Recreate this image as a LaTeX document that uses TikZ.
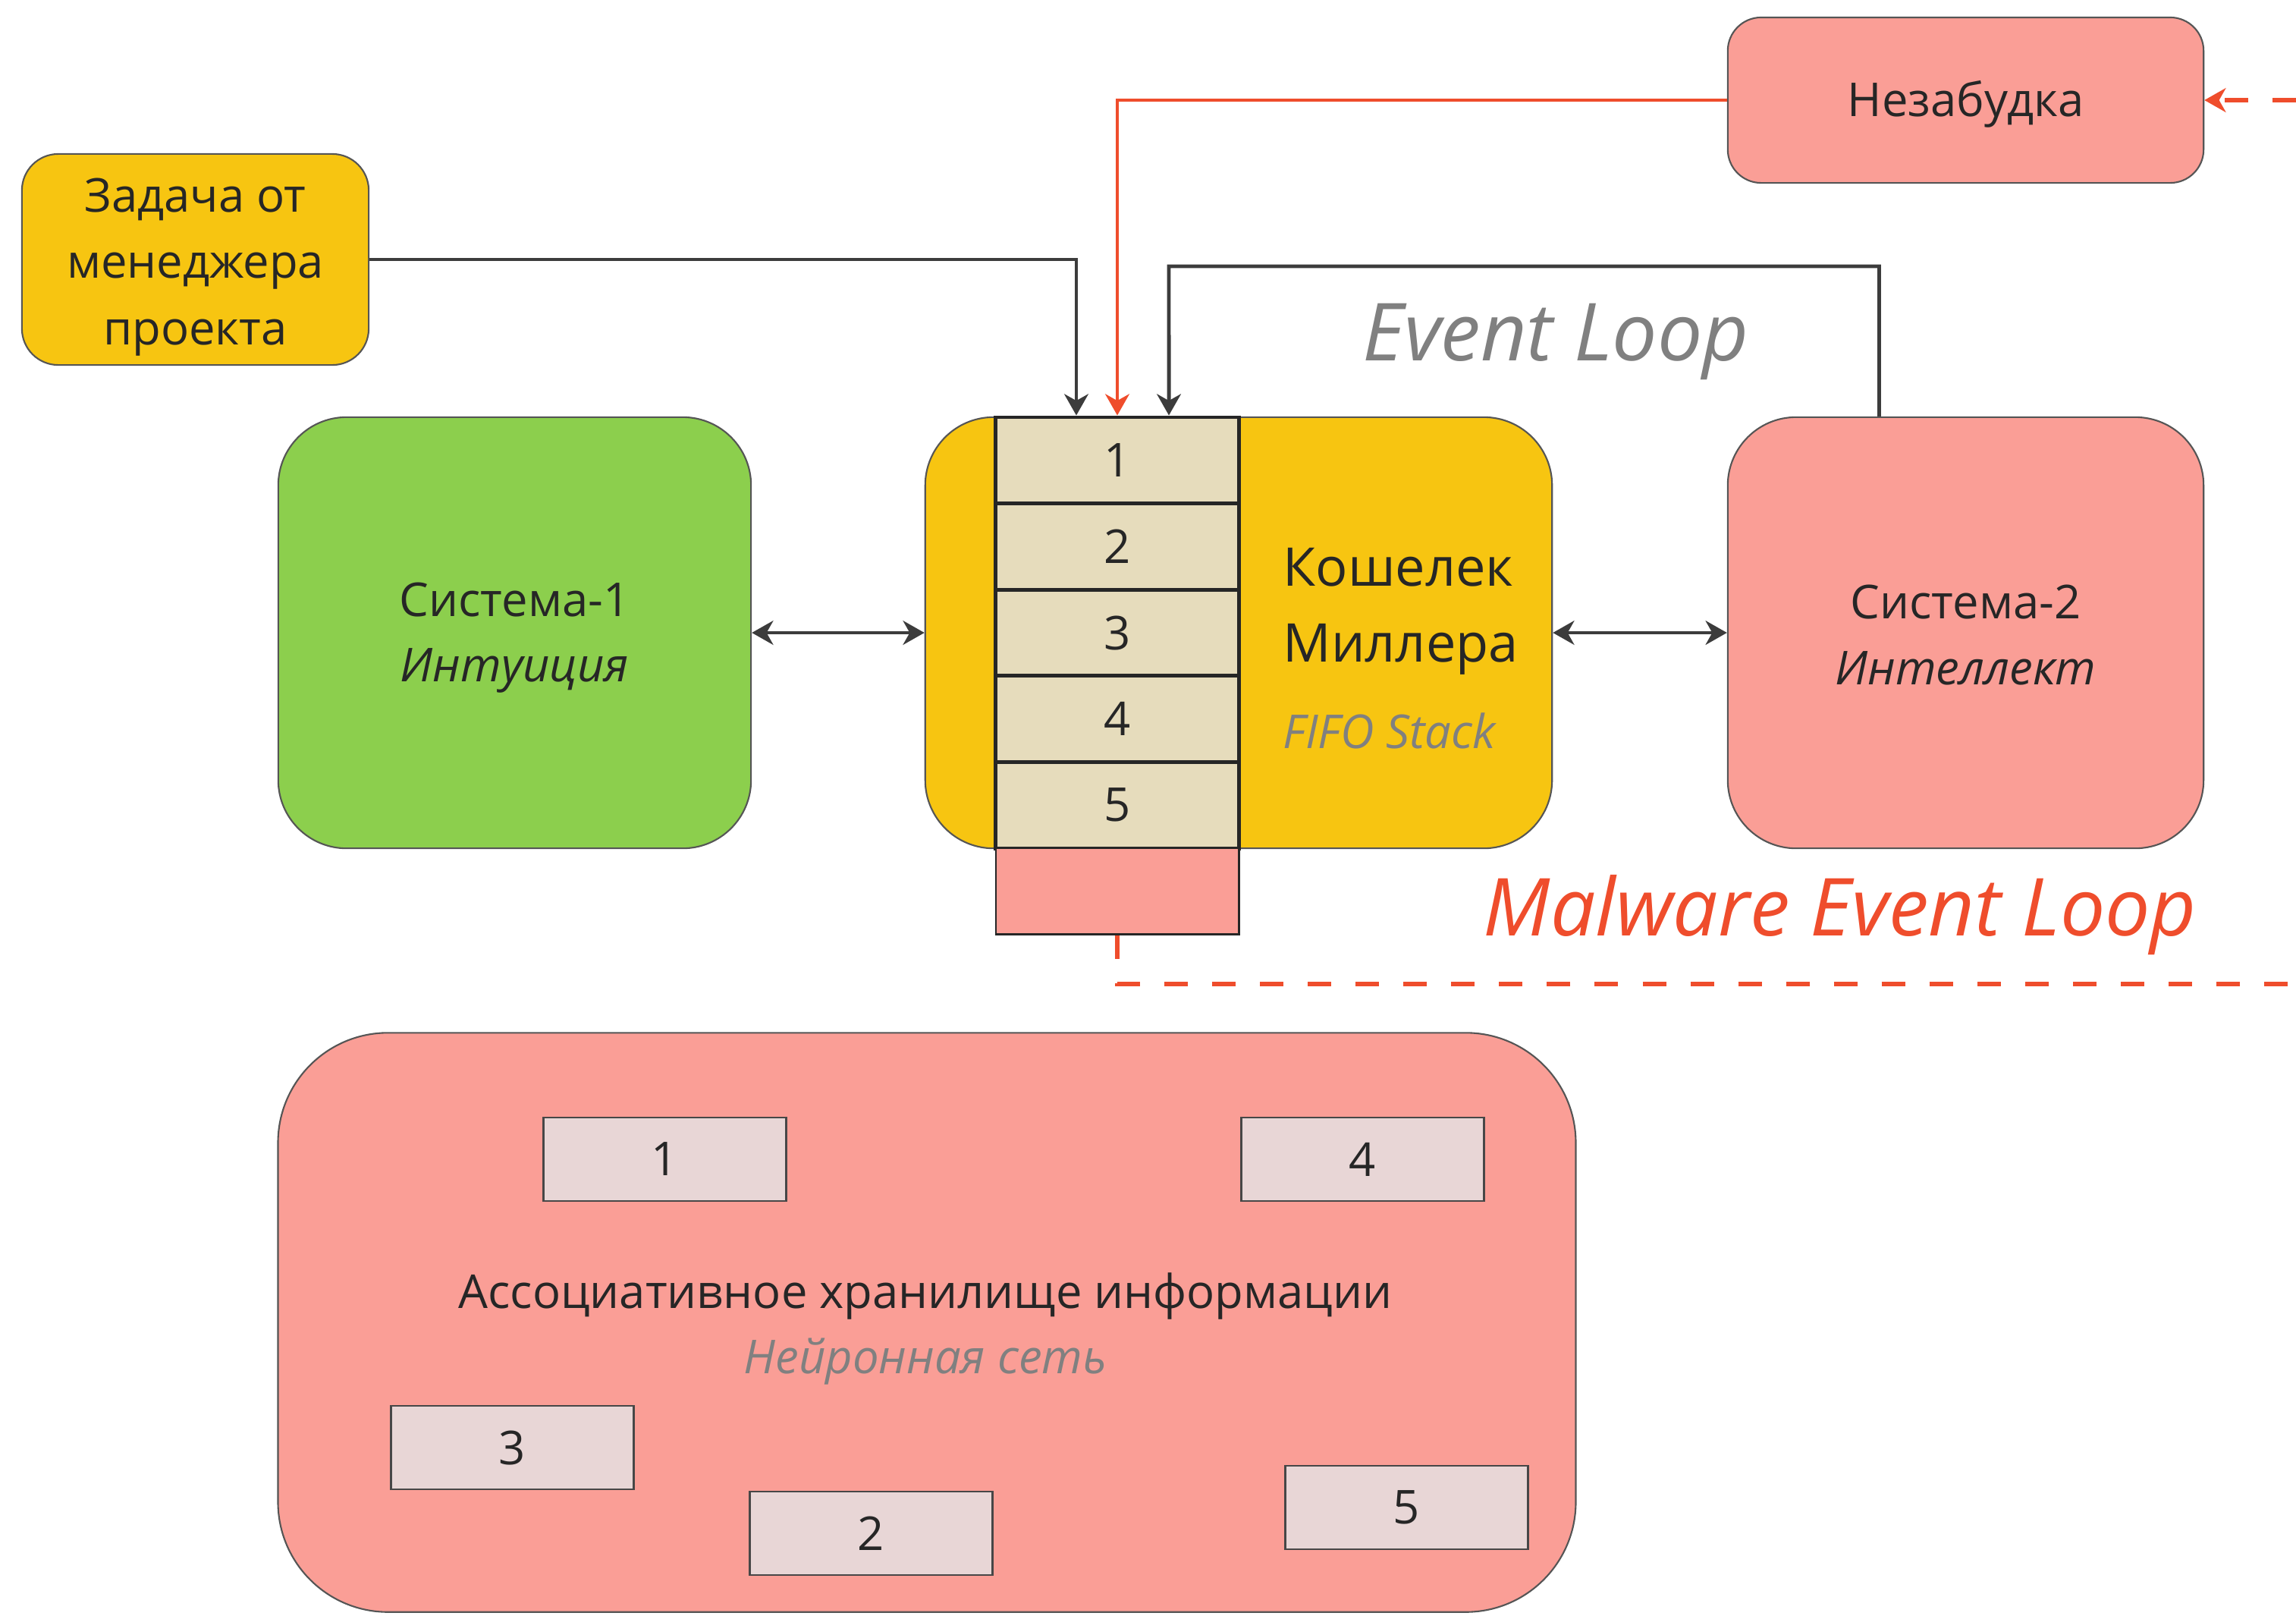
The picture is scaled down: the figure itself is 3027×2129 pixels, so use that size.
\documentclass[tikz,border=0pt]{standalone}
\usepackage{fontspec}
\setmainfont{Open Sans}
\usetikzlibrary{arrows.meta}

\definecolor{sunyellow}{HTML}{F7C511}
\definecolor{leafgreen}{HTML}{8CCF4D}
\definecolor{salmon}{HTML}{FA9E96}
\definecolor{sand}{HTML}{E6DCBC}
\definecolor{memfill}{HTML}{E8D6D6}
\definecolor{alertred}{HTML}{EF4D2C}
\definecolor{edgegray}{HTML}{555555}
\definecolor{inkdark}{HTML}{262626}
\definecolor{softgray}{HTML}{808080}

\newcommand\fmain{\fontsize{17.5}{24.5}\selectfont}
\newcommand\fbig{\fontsize{20}{28.5}\selectfont}
\newcommand\fhuge{\fontsize{30}{36}\selectfont}

\tikzset{headtip/.tip={Stealth[length=8pt,width=9pt,inset=2.5pt]}}

\begin{document}
\begin{tikzpicture}[x=0.01cm, y=-0.01cm,
  rbox/.style={draw=edgegray, line width=0.6pt, inner sep=0pt, align=center,
    text=inkdark, font=\fmain},
  cellbox/.style={draw=inkdark, fill=sand, line width=1.4pt, inner sep=0pt,
    minimum width=3.2cm, minimum height=1.136cm, text=inkdark, font=\fmain},
  membox/.style={draw=inkdark!85, fill=memfill, line width=0.8pt, inner sep=0pt,
    minimum width=3.2cm, minimum height=1.1cm, text=inkdark, font=\fmain},
  link/.style={draw=inkdark!90, line width=1.4pt},
  arr/.style={link, -{headtip}},
  biarr/.style={link, {headtip}-{headtip}},
  redarr/.style={draw=alertred, line width=1.4pt, -{headtip}},
  reddash/.style={draw=alertred, line width=1.9pt, dash pattern=on 0.31cm off 0.32cm},
  note/.style={inner sep=0pt, font=\itshape}
]
\useasboundingbox (0,0) rectangle (3027,2129);

% task from the project manager
\node[rbox, fill=sunyellow, rounded corners=0.48cm, minimum width=4.57cm,
  minimum height=2.78cm] (task) at (257.5,342) {};
\node[inner sep=0pt, text=inkdark, align=center, font=\fontsize{17.5}{24.8}\selectfont]
  (taskT) at (257.5,352) {Задача от\\менеджера\\проекта};

% forget-me-not reminder
\node[rbox, fill=salmon, rounded corners=0.44cm, minimum width=6.27cm,
  minimum height=2.18cm] (nez) at (2591.5,132) {};
\node[inner sep=0pt, text=inkdark, font=\fmain] (nezT) at (2591.5,137) {Незабудка};

% system 1 and system 2
\node[rbox, fill=leafgreen, rounded corners=0.9cm, minimum width=6.23cm,
  minimum height=5.68cm] (sys1) at (678.5,834) {};
\node[inner sep=0pt, text=inkdark, font=\fmain, align=center] (sys1t) at (678.5,841)
  {Система-1\\\textit{Интуиция}};
\node[rbox, fill=salmon, rounded corners=0.9cm, minimum width=6.27cm,
  minimum height=5.68cm] (sys2) at (2591.5,834) {};
\node[inner sep=0pt, text=inkdark, font=\fmain, align=center] (sys2t) at (2591.5,837)
  {Система-2\\\textit{Интеллект}};

% Miller's wallet with its FIFO stack
\node[rbox, fill=sunyellow, rounded corners=0.9cm, minimum width=8.26cm,
  minimum height=5.68cm] (wallet) at (1633,834) {};
\node[cellbox] (c1) at (1473,606.8) {1};
\node[cellbox] (c2) at (1473,720.4) {2};
\node[cellbox] (c3) at (1473,834.0) {3};
\node[cellbox] (c4) at (1473,947.6) {4};
\node[cellbox] (c5) at (1473,1061.2) {5};
\node[cellbox, fill=salmon, line width=0.8pt] (c6) at (1473,1174.8) {};
\node[inner sep=0pt, anchor=west, text=inkdark, font=\fbig, align=left] (walletT)
  at (1691,806) {Кошелек\\Миллера};
\node[note, anchor=west, text=softgray, font=\fmain\itshape] (fifo) at (1691,963) {FIFO Stack};

% loop captions
\node[note, text=softgray, font=\fhuge\itshape] (evloop) at (2051,450) {Event Loop};
\node[note, text=alertred, font=\fhuge\itshape] (mwloop) at (2426,1206) {Malware Event Loop};

% associative memory
\node[rbox, fill=salmon, rounded corners=1.45cm, minimum width=17.1cm,
  minimum height=7.63cm] (mem) at (1222,1743) {};
\node[inner sep=0pt, text=inkdark, font=\fmain] (memT) at (1220,1708)
  {Ассоциативное хранилище информации};
\node[note, text=softgray, font=\fmain\itshape] (memS) at (1220,1795) {Нейронная сеть};
\node[membox] (m1) at (876.5,1528) {1};
\node[membox] (m4) at (1796.5,1528) {4};
\node[membox] (m3) at (675.5,1908) {3};
\node[membox] (m2) at (1148.5,2021) {2};
\node[membox] (m5) at (1854.5,1987) {5};

% connectors
\coordinate (loopTop) at (1541,351);
\coordinate (mwRight) at (3027,1297);
\coordinate (nezFar) at (3027,132);

\draw[arr] (task.east) -| ([xshift=-0.54cm]c1.north);
\draw[redarr] (nez.west) -| (c1.north);
\draw[arr] ([xshift=-1.14cm]sys2.north) |- (loopTop) -- ([xshift=0.68cm]c1.north);
\draw[biarr] (sys1.east) -- (wallet.west);
\draw[biarr] (wallet.east) -- (sys2.west);
\draw[reddash] (c6.south) |- (mwRight);
\draw[reddash, -{headtip}] (nezFar) -- (nez.east);
\end{tikzpicture}
\end{document}
